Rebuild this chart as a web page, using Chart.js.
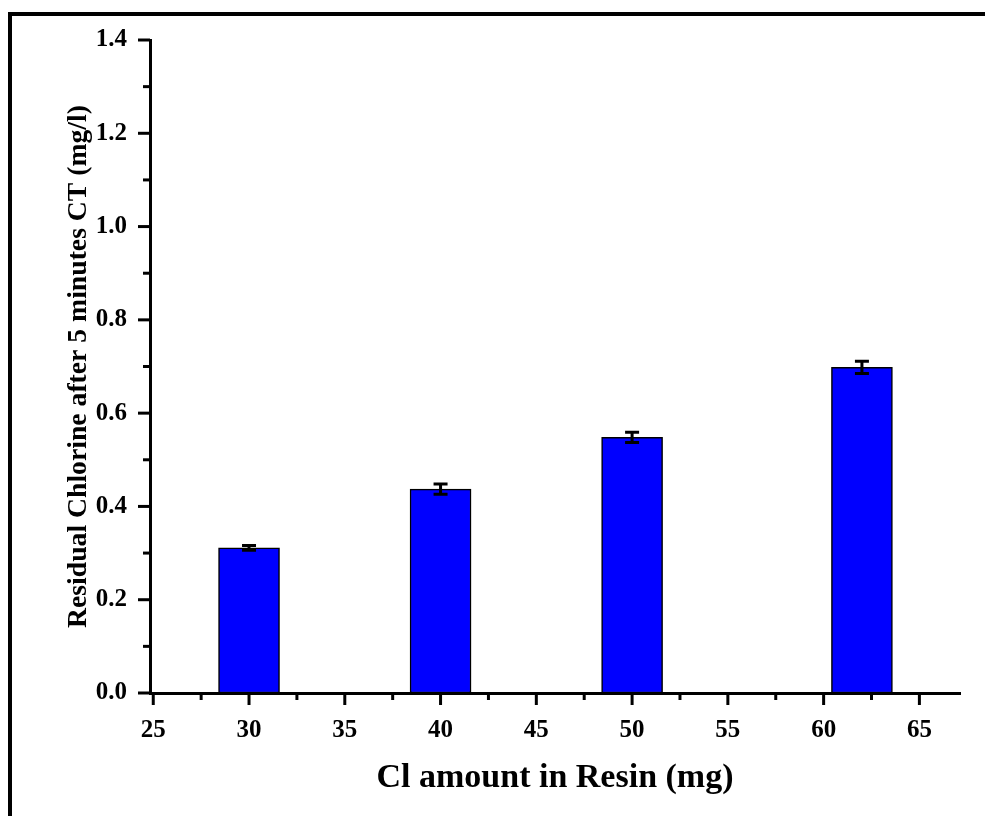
<!DOCTYPE html>
<html>
<head>
<meta charset="utf-8">
<script src="https://cdn.jsdelivr.net/npm/chart.js@4"></script>
<style>
  body { margin: 0; background: #fff; }
  .container-chart { position: relative; width: 985px; height: 816px; }
</style>
</head>
<body>
<div class="container-chart">
  <canvas id="myChart"></canvas>
</div>
<script>
// Cl amount in resin (mg) vs residual chlorine after 5 min contact time
const clAmount = [30, 40, 50, 62];
const residual = [0.311, 0.437, 0.548, 0.698];
const residualErr = [0.005, 0.011, 0.011, 0.013];

const xTicks = [25, 30, 35, 40, 45, 50, 55, 60, 65];
const yTicks = ['0.0', '0.2', '0.4', '0.6', '0.8', '1.0', '1.2', '1.4'];

const serif = "'Liberation Serif', 'Times New Roman', serif";

// outer frame around the figure
const framePlugin = {
  id: 'frame',
  beforeDraw(chart) {
    const ctx = chart.ctx;
    ctx.save();
    ctx.fillStyle = '#fff';
    ctx.fillRect(0, 0, chart.width, chart.height);
    ctx.strokeStyle = '#000';
    ctx.lineWidth = 4;
    ctx.strokeRect(10, 14, 1100, 1000);
    ctx.restore();
  }
};

// outward tick marks: long ones at the labels, short ones halfway between
const axisTicks = {
  id: 'axisTicks',
  afterDraw(chart) {
    const ctx = chart.ctx;
    ctx.save();
    ctx.strokeStyle = '#000';
    ctx.lineWidth = 3;
    const x = chart.scales.x, y = chart.scales.y;
    const xb = x.top, yb = y.right;
    x.ticks.forEach((t, i) => {
      const px = x.getPixelForValue(t.value);
      ctx.beginPath(); ctx.moveTo(px, xb); ctx.lineTo(px, xb + 12); ctx.stroke();
      if (i < x.ticks.length - 1) {
        const pm = x.getPixelForValue((t.value + x.ticks[i + 1].value) / 2);
        ctx.beginPath(); ctx.moveTo(pm, xb); ctx.lineTo(pm, xb + 7); ctx.stroke();
      }
    });
    y.ticks.forEach((t, i) => {
      const py = y.getPixelForValue(t.value);
      ctx.beginPath(); ctx.moveTo(yb, py); ctx.lineTo(yb - 12, py); ctx.stroke();
      if (i < y.ticks.length - 1) {
        const pm = y.getPixelForValue((t.value + y.ticks[i + 1].value) / 2);
        ctx.beginPath(); ctx.moveTo(yb, pm); ctx.lineTo(yb - 7, pm); ctx.stroke();
      }
    });
    ctx.restore();
  }
};

// standard deviation whiskers on top of each bar
const errorBars = {
  id: 'errorBars',
  afterDatasetsDraw(chart) {
    const ctx = chart.ctx;
    const x = chart.scales.x, y = chart.scales.y;
    ctx.save();
    ctx.strokeStyle = '#000';
    ctx.lineWidth = 3;
    clAmount.forEach((c, i) => {
      const px = x.getPixelForValue(c);
      const top = y.getPixelForValue(residual[i] + residualErr[i]);
      const bot = y.getPixelForValue(residual[i] - residualErr[i]);
      ctx.beginPath();
      ctx.moveTo(px, top); ctx.lineTo(px, bot);
      ctx.moveTo(px - 7, top); ctx.lineTo(px + 7, top);
      ctx.moveTo(px - 7, bot); ctx.lineTo(px + 7, bot);
      ctx.stroke();
    });
    ctx.restore();
  }
};

const ctx = document.getElementById('myChart');
new Chart(ctx, {
  type: 'bar',
  data: {
    datasets: [{
      label: 'Residual chlorine',
      data: clAmount.map((c, i) => ({ x: c, y: residual[i] })),
      backgroundColor: '#0000ff',
      borderColor: '#000',
      borderWidth: 1.5,
      borderSkipped: false,
      barThickness: 61
    }]
  },
  options: {
    responsive: true,
    maintainAspectRatio: false,
    animation: false,
    layout: { padding: { top: 40, right: 25, left: 0, bottom: 0 } },
    plugins: { legend: { display: false }, tooltip: { enabled: false } },
    scales: {
      x: {
        type: 'linear',
        offset: false,
        min: 24.83,
        max: 67.12,
        afterBuildTicks: s => { s.ticks = xTicks.map(v => ({ value: v })); },
        afterFit: s => { s.height = 123; },
        grid: { display: false },
        border: { display: true, width: 3, color: '#000' },
        ticks: {
          color: '#000',
          padding: 15,
          maxRotation: 0,
          font: { family: serif, size: 25, weight: 'bold' },
          callback: v => String(v)
        },
        title: {
          display: true,
          text: 'Cl amount in Resin (mg)',
          color: '#000',
          padding: { top: 0, bottom: 17 },
          font: { family: serif, size: 34, weight: 'bold' }
        }
      },
      y: {
        min: 0,
        max: 1.4,
        afterBuildTicks: s => { s.ticks = yTicks.map(v => ({ value: parseFloat(v) })); },
        afterFit: s => { s.width = 150; },
        grid: { display: false },
        border: { display: true, width: 3, color: '#000' },
        ticks: {
          color: '#000',
          padding: 15,
          font: { family: serif, size: 25, weight: 'bold' },
          callback: v => yTicks.find(t => parseFloat(t) === v)
        },
        title: {
          display: true,
          text: 'Residual Chlorine after 5 minutes CT (mg/l)',
          color: '#000',
          padding: { top: 62, bottom: 0 },
          font: { family: serif, size: 27.7, weight: 'bold' }
        }
      }
    }
  },
  plugins: [framePlugin, axisTicks, errorBars]
});
</script>
</body>
</html>
